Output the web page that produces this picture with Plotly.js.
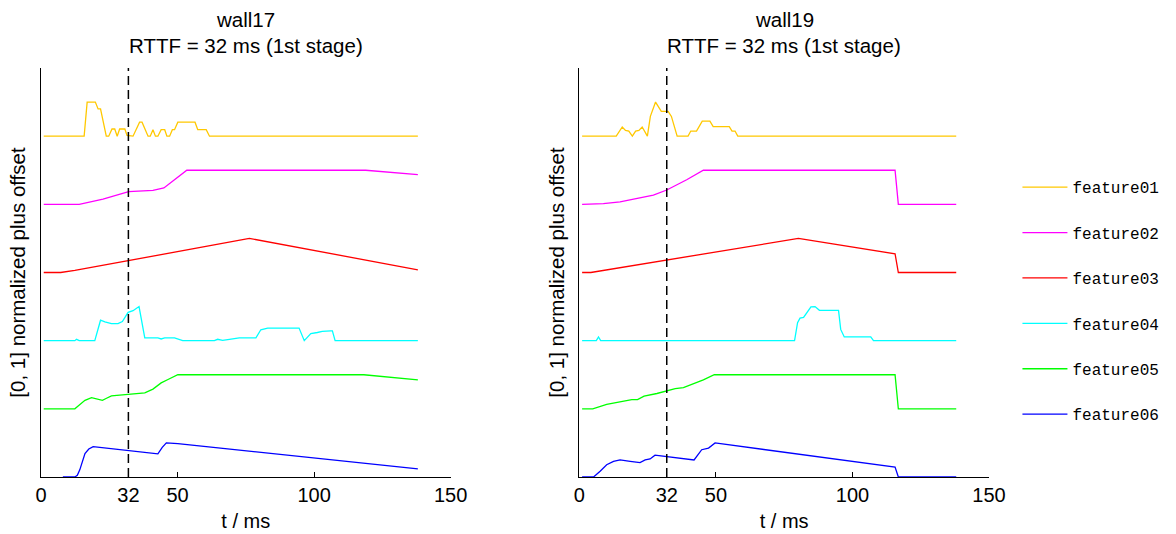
<!DOCTYPE html>
<html>
<head>
<meta charset="utf-8">
<script src="https://cdn.plot.ly/plotly-3.0.1.min.js"></script>
<style>
html,body{margin:0;padding:0;background:#fff;}
#chart{width:1176px;height:534px;}
</style>
</head>
<body>
<div id="chart"></div>
<script>
// ---------------- data ----------------
const wallNames = ['wall17', 'wall19'];
const subtitle = 'RTTF = 32 ms (1st stage)';
const rttfMs = 32;
const featureNames = ['feature01', 'feature02', 'feature03', 'feature04', 'feature05', 'feature06'];
const xTickVals = [0, 32, 50, 100, 150];
const xTickText = ['0', '32', '50', '100', '150'];

// wall17
const w17_f01_t = [1, 15.8, 16.9, 19.9, 20.9, 21.8, 23.9, 24.8, 26.0, 27.0, 27.9, 28.8, 30.7, 31.5, 33.7, 36.1, 37.0, 39.2, 40.0, 41.0, 41.9, 42.8, 44.0, 45.3, 46.1, 47.1, 48.1, 48.9, 50.1, 56.4, 57.4, 60.5, 61.7, 138];
const w17_f01_v = [0, 0, 1.0, 1.0, 0.8, 0.8, 0, 0, 0.21, 0.21, 0, 0.21, 0.21, 0.02, 0, 0.41, 0.41, 0, 0, 0.19, 0, 0, 0.19, 0.19, 0, 0, 0.19, 0.19, 0.41, 0.41, 0.19, 0.19, 0, 0];
const w17_f02_t = [1, 14.0, 22.7, 32.1, 41.0, 45.0, 53.4, 118.9, 138];
const w17_f02_v = [0, 0, 0.15, 0.37, 0.41, 0.48, 1.0, 1.0, 0.87];
const w17_f03_t = [1, 7.2, 12.4, 76.3, 138];
const w17_f03_v = [0, 0, 0.06, 1.0, 0.08];
const w17_f04_t = [1, 12.4, 13.0, 14.0, 19.7, 21.8, 23.4, 25.8, 28.2, 29.8, 31.9, 33.7, 35.9, 38.0, 42.8, 44.0, 45.3, 48.9, 51.9, 63.5, 64.7, 66.5, 69.0, 72.6, 78.7, 80.5, 83.0, 94.5, 96.4, 98.8, 101.2, 103.0, 106.1, 106.7, 107.7, 138];
const w17_f04_v = [0, 0, 0.04, 0, 0, 0.60, 0.55, 0.50, 0.50, 0.56, 0.83, 0.88, 1.0, 0.08, 0.08, 0.05, 0.08, 0.08, 0, 0, 0.04, 0.01, 0.04, 0.08, 0.08, 0.32, 0.37, 0.37, 0, 0.21, 0.24, 0.27, 0.29, 0.29, 0, 0];
const w17_f05_t = [1, 12.4, 13.6, 16.1, 18.5, 20.3, 22.5, 24.0, 25.8, 28.8, 31.9, 34.9, 38.0, 41.0, 44.0, 46.5, 50.1, 118.2, 138];
const w17_f05_v = [0, 0, 0.08, 0.25, 0.33, 0.29, 0.25, 0.31, 0.38, 0.40, 0.42, 0.46, 0.47, 0.58, 0.76, 0.86, 1.0, 1.0, 0.85];
const w17_f06_t = [8, 12.4, 13.3, 14.2, 16.1, 17.5, 19.1, 42.8, 44.4, 45.9, 50.1, 138];
const w17_f06_v = [0, 0, 0.05, 0.21, 0.69, 0.82, 0.89, 0.68, 0.87, 1.0, 0.98, 0.24];

// wall19
const w19_f01_t = [1, 13.5, 15.7, 16.9, 18.1, 19.4, 20.6, 21.8, 23.0, 24.9, 26.0, 27.2, 27.9, 30.0, 32.5, 33.7, 35.8, 39.8, 40.8, 42.9, 45.0, 47.8, 49.0, 54.9, 55.9, 57.0, 58.0, 138];
const w19_f01_v = [0, 0, 0.27, 0.17, 0.15, 0, 0.15, 0.17, 0.27, 0, 0.58, 0.87, 1.0, 0.73, 0.73, 0.58, 0, 0, 0.15, 0.15, 0.44, 0.44, 0.28, 0.28, 0.15, 0.15, 0, 0];
const w19_f02_t = [1, 8.8, 14.9, 21.0, 27.1, 32.0, 35.7, 39.3, 45.4, 115.6, 116.8, 138];
const w19_f02_v = [0, 0.02, 0.07, 0.16, 0.27, 0.42, 0.56, 0.72, 1.0, 1.0, 0, 0];
const w19_f03_t = [1, 4.2, 80.2, 115.6, 116.8, 138];
const w19_f03_v = [0, 0, 1.0, 0.55, 0, 0];
const w19_f04_t = [1, 6.2, 7.0, 7.8, 78.8, 79.9, 80.8, 82.1, 84.8, 86.3, 87.9, 94.9, 95.7, 97.0, 106.7, 107.7, 138];
const w19_f04_v = [0, 0, 0.11, 0, 0, 0.53, 0.66, 0.68, 0.99, 1.0, 0.89, 0.89, 0.33, 0.11, 0.11, 0, 0];
const w19_f05_t = [1, 4.9, 10.0, 14.9, 19.2, 21.3, 23.7, 28.4, 32.0, 35.1, 38.1, 41.2, 45.4, 49.4, 115.6, 116.8, 138];
const w19_f05_v = [0, 0, 0.13, 0.20, 0.27, 0.27, 0.37, 0.45, 0.53, 0.59, 0.62, 0.71, 0.85, 1.0, 1.0, 0, 0];
const w19_f06_t = [1, 5.2, 7.6, 10.0, 12.5, 14.9, 18.6, 22.2, 24.1, 25.9, 27.7, 32.2, 42.0, 44.8, 47.3, 49.7, 115.6, 116.8, 138];
const w19_f06_v = [0, 0, 0.17, 0.36, 0.46, 0.50, 0.46, 0.42, 0.50, 0.53, 0.64, 0.60, 0.50, 0.80, 0.85, 1.0, 0.29, 0, 0];

// ---------------- styling ----------------
const featureColors = ['rgb(255,200,0)', 'rgb(255,0,255)', 'rgb(255,0,0)', 'rgb(0,255,255)', 'rgb(0,255,0)', 'rgb(0,0,255)'];
const offsetStep = 2; // "[0,1] normalized plus offset"

const wallData = [
  [[w17_f01_t, w17_f01_v], [w17_f02_t, w17_f02_v], [w17_f03_t, w17_f03_v], [w17_f04_t, w17_f04_v], [w17_f05_t, w17_f05_v], [w17_f06_t, w17_f06_v]],
  [[w19_f01_t, w19_f01_v], [w19_f02_t, w19_f02_v], [w19_f03_t, w19_f03_v], [w19_f04_t, w19_f04_v], [w19_f05_t, w19_f05_v], [w19_f06_t, w19_f06_v]]
];

const traces = [];
wallData.forEach((feats, w) => {
  feats.forEach(([t, v], i) => {
    const off = offsetStep * (featureNames.length - 1 - i);
    traces.push({
      type: 'scatter', mode: 'lines',
      x: t, y: v.map(val => val + off),
      name: featureNames[i], legendgroup: featureNames[i],
      showlegend: w === 0,
      line: {color: featureColors[i], width: 1.3},
      xaxis: w === 0 ? 'x' : 'x2', yaxis: w === 0 ? 'y' : 'y2',
      hoverinfo: 'x+name'
    });
  });
});

const FONT = 'Liberation Sans, Arial, Helvetica, sans-serif';
const FS = 20;
const TFS = 20.5;
const axisX = (domain, anchor) => ({
  domain: domain, anchor: anchor, range: [0, 150],
  tickmode: 'array', tickvals: xTickVals, ticktext: xTickText,
  ticks: 'inside', ticklen: 5, tickcolor: '#000', tickwidth: 1,
  showline: true, linecolor: '#000', linewidth: 1,
  showgrid: false, zeroline: false,
  tickfont: {family: FONT, size: FS, color: '#000'},
  title: {text: 't / ms', font: {family: FONT, size: FS, color: '#000'}, standoff: 8}
});
const axisY = (anchor) => ({
  anchor: anchor, domain: [0, 1], range: [0, 12],
  showticklabels: false, ticks: '', showline: true, linecolor: '#000', linewidth: 1,
  showgrid: false, zeroline: false,
  title: {text: '[0, 1] normalized plus offset', font: {family: FONT, size: TFS, color: '#000'}, standoff: 8}
});

const dom1 = [0, 0.4321], dom2 = [0.5679, 1];
const plotTop = 68, plotH = 409;
const pyToPaper = py => 1 + (plotTop - py) / plotH;

const annotations = [];
wallNames.forEach((n, w) => {
  const cx = (w === 0 ? (dom1[0] + dom1[1]) : (dom2[0] + dom2[1])) / 2;
  annotations.push({text: n, showarrow: false, xref: 'paper', yref: 'paper', x: cx, y: pyToPaper(20),
    xanchor: 'center', yanchor: 'middle', font: {family: FONT, size: TFS, color: '#000'}});
  annotations.push({text: subtitle, showarrow: false, xref: 'paper', yref: 'paper', x: cx, y: pyToPaper(45),
    xanchor: 'center', yanchor: 'middle', font: {family: FONT, size: TFS, color: '#000'}});
});

const layout = {
  width: 1176, height: 534,
  margin: {l: 41, r: 187, t: 68, b: 57, pad: 0},
  paper_bgcolor: '#fff', plot_bgcolor: '#fff',
  font: {family: FONT, size: FS, color: '#000'},
  showlegend: true,
  legend: {
    x: 1.030, y: 0.750, xanchor: 'left', yanchor: 'top',
    font: {family: 'Liberation Mono, Courier New, monospace', size: 16, color: '#000'},
    tracegroupgap: 21.6, itemwidth: 45, bgcolor: 'rgba(0,0,0,0)', borderwidth: 0
  },
  xaxis: axisX(dom1, 'y'),
  yaxis: axisY('x'),
  xaxis2: axisX(dom2, 'y2'),
  yaxis2: axisY('x2'),
  shapes: [
    {type: 'line', xref: 'x', yref: 'y domain', x0: rttfMs, x1: rttfMs, y0: 0, y1: 1, line: {color: '#000', width: 1.5, dash: '9px,5px'}},
    {type: 'line', xref: 'x2', yref: 'y2 domain', x0: rttfMs, x1: rttfMs, y0: 0, y1: 1, line: {color: '#000', width: 1.5, dash: '9px,5px'}}
  ],
  annotations: annotations
};

Plotly.newPlot('chart', traces, layout, {displayModeBar: false, responsive: false});
</script>
</body>
</html>
